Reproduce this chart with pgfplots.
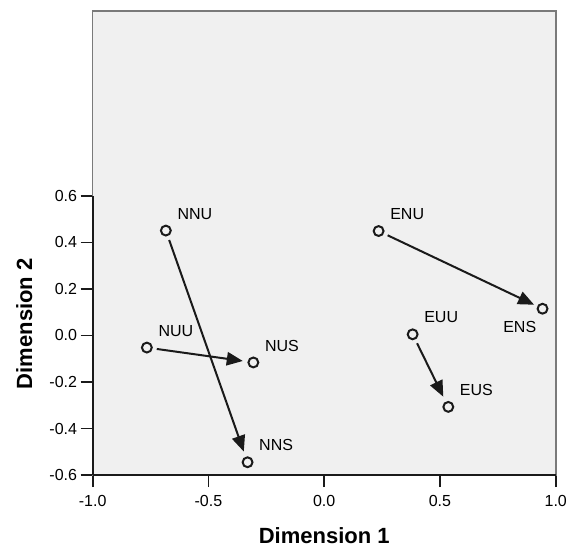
\documentclass[border=0pt]{standalone}
\usepackage{fontspec}
\setmainfont{Liberation Sans}
\usepackage{pgfplots}
\pgfplotsset{compat=1.18}
\usetikzlibrary{arrows.meta}
\definecolor{plotbg}{HTML}{F0F0F0}
\definecolor{framegrey}{HTML}{7A7A7A}
\definecolor{axisdark}{HTML}{1A1A1A}

% object coordinates (MDS configuration)
\pgfplotstableread{
x y lab
-0.684 0.451 NNU
-0.766 -0.052 NUU
-0.306 -0.116 NUS
-0.331 -0.545 NNS
0.235 0.449 ENU
0.382 0.005 EUU
0.536 -0.307 EUS
}\ptsNE
\pgfplotstableread{
x y lab
0.943 0.115 ENS
}\ptsSW

\begin{document}
\begin{tikzpicture}
\useasboundingbox (-69.5pt,-53.25pt) rectangle (357.2pt,356.25pt);
\begin{axis}[
  at={(0,0)}, anchor=south west,
  scale only axis, width=347.25pt, height=348.2pt,
  xmin=-1, xmax=1, ymin=-0.6, ymax=1.396,
  axis background/.style={fill=plotbg},
  axis line style={framegrey, line width=1.2pt},
  xtick={-1,-0.5,0,0.5,1},
  ytick={-0.6,-0.4,-0.2,0,0.2,0.4,0.6},
  xtick pos=bottom, ytick pos=left,
  tick align=outside, major tick length=9pt,
  tick style={axisdark, line width=1.3pt},
  /pgf/number format/fixed,
  /pgf/number format/fixed zerofill,
  /pgf/number format/precision=1,
  /pgf/number format/assume math mode=true,
  ticklabel style={font=\fontsize{12}{14}\selectfont, inner sep=0pt},
  xticklabel style={yshift=-6pt},
  yticklabel style={xshift=-2.5pt},
  xlabel={Dimension 1}, ylabel={Dimension 2},
  label style={font=\fontsize{16.5}{20}\selectfont\bfseries, inner sep=0pt},
  xlabel style={at={(axis description cs:0.5,-0.1465)}, anchor=base},
  ylabel style={at={(axis description cs:-0.131,0.326)}, anchor=base},
  clip=false,
]
% dark axis lines over the grey frame
\draw[axisdark, line width=1.3pt] (axis cs:-1,-0.6) -- (axis cs:1,-0.6);
\draw[axisdark, line width=1.3pt] (axis cs:-1,-0.6) -- (axis cs:-1,0.6);

% movements
\pgfplotsset{every axis plot/.append style={axisdark, line width=1.5pt}}
\addplot[-{Triangle[length=12pt,width=10pt]}, shorten <=7.5pt, shorten >=8.5pt]
  coordinates {(-0.684,0.451) (-0.331,-0.545)};
\addplot[-{Triangle[length=12pt,width=10pt]}, shorten <=7.5pt, shorten >=8pt]
  coordinates {(-0.766,-0.052) (-0.306,-0.116)};
\addplot[-{Triangle[length=12pt,width=10pt]}, shorten <=7.5pt, shorten >=7pt]
  coordinates {(0.235,0.449) (0.943,0.115)};
\addplot[-{Triangle[length=12pt,width=10pt]}, shorten <=7.5pt, shorten >=8.5pt]
  coordinates {(0.382,0.005) (0.536,-0.307)};

% points and labels
\addplot[only marks, mark=*, mark size=3.7pt,
  mark options={fill=plotbg, draw=axisdark, line width=1.5pt},
  nodes near coords, point meta=explicit symbolic,
  nodes near coords style={anchor=base west, inner sep=0pt, xshift=8pt, yshift=8.5pt,
    font=\fontsize{12}{14}\selectfont, text=black}]
  table[x=x, y=y, meta=lab] {\ptsNE};
\addplot[only marks, mark=*, mark size=3.7pt,
  mark options={fill=plotbg, draw=axisdark, line width=1.5pt},
  nodes near coords, point meta=explicit symbolic,
  nodes near coords style={anchor=base east, inner sep=0pt, xshift=-4pt, yshift=-17.5pt,
    font=\fontsize{12}{14}\selectfont, text=black}]
  table[x=x, y=y, meta=lab] {\ptsSW};
\end{axis}
\end{tikzpicture}
\end{document}
